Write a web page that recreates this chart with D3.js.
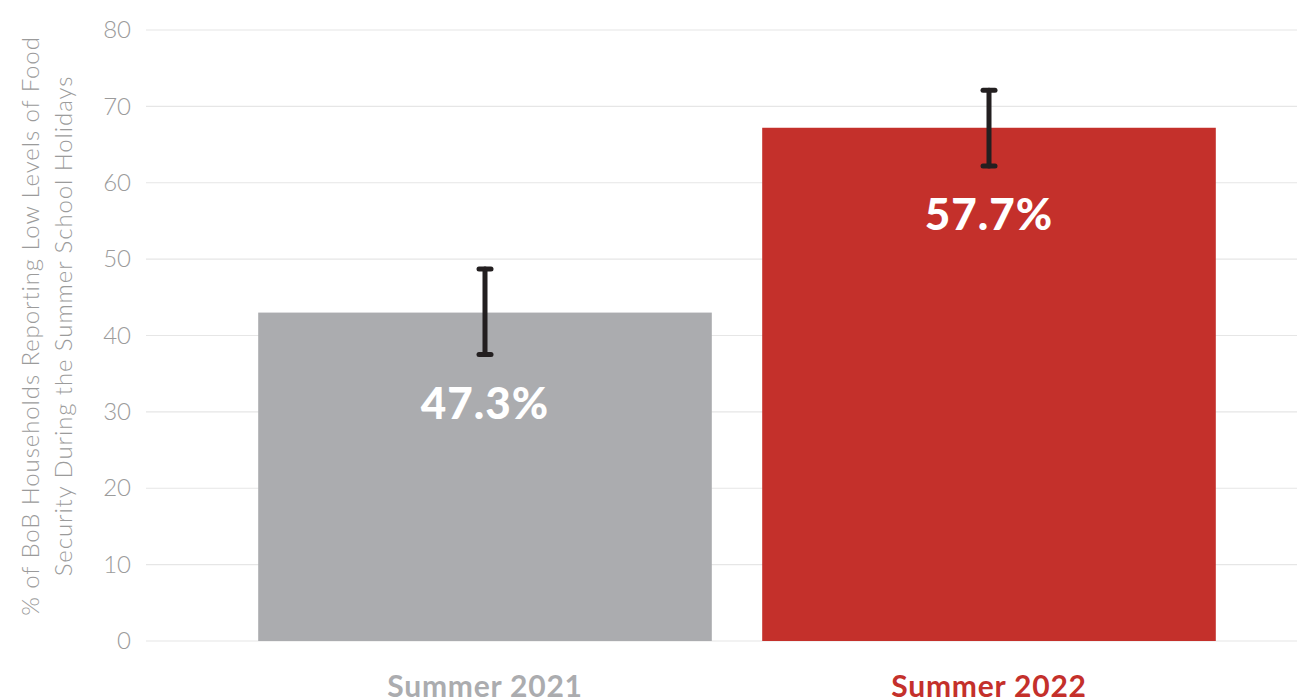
<!DOCTYPE html>
<html><head><meta charset="utf-8">
<script src="https://cdn.jsdelivr.net/npm/d3@7"></script>
<style>body{margin:0;background:#fff;overflow:hidden}</style>
</head><body><svg id="c" width="1297" height="699"></svg>
<script>
const categories = ["Summer 2021", "Summer 2022"];
const values = [43.0, 67.2];
const errLow = [37.5, 62.2];
const errHigh = [48.7, 72.1];
const valueLabels = ["47.3%", "57.7%"];
const yTicks = [0, 10, 20, 30, 40, 50, 60, 70, 80];
const barColors = ["#abacaf", "#c4302b"];
const catColors = ["#abacaf", "#c4302b"];
const yTitle = ["% of BoB Households Reporting Low Levels of Food", "Security During the Summer School Holidays"];

const svg = d3.select("#c");
const y = d3.scaleLinear().domain([0, 80]).range([641, 30]);
const x = d3.scaleBand().domain(categories).range([233, 1241]).paddingInner(0.1).paddingOuter(0.05);

// gridlines
svg.append("g").selectAll("line").data(yTicks).join("line")
  .attr("x1", 146).attr("x2", 1297)
  .attr("y1", d => y(d)).attr("y2", d => y(d))
  .attr("stroke", "#e6e6e6").attr("stroke-width", 1.2);

// y axis labels
const yAxis = d3.axisLeft(y).tickValues(yTicks).tickSize(0).tickPadding(0);
const ga = svg.append("g").attr("transform", "translate(131,0)").call(yAxis);
ga.select(".domain").remove();
ga.selectAll("text").attr("font-family", "Lato, 'Open Sans', sans-serif").attr("font-weight", 300)
  .attr("font-size", 24).attr("fill", "#9b9b9b");

// axis title
const tt = svg.append("text").attr("transform", "translate(31,326) rotate(-90)")
  .attr("text-anchor", "middle").attr("font-family", "Lato, 'Open Sans', sans-serif")
  .attr("font-weight", 300).attr("font-size", 24).attr("letter-spacing", 0.9).attr("fill", "#9b9b9b");
tt.selectAll("tspan").data(yTitle).join("tspan")
  .attr("x", 0).attr("dy", (d, i) => i === 0 ? "0.35em" : "1.35em").text(d => d);

// bars
svg.append("g").selectAll("rect").data(categories).join("rect")
  .attr("x", d => x(d)).attr("width", x.bandwidth())
  .attr("y", (d, i) => y(values[i])).attr("height", (d, i) => y(0) - y(values[i]))
  .attr("fill", (d, i) => barColors[i]);

// error bars
const eg = svg.append("g").attr("stroke", "#231f20").attr("stroke-linecap", "round");
categories.forEach((c, i) => {
  const cx = x(c) + x.bandwidth() / 2;
  eg.append("line").attr("x1", cx).attr("x2", cx).attr("y1", y(errHigh[i])).attr("y2", y(errLow[i])).attr("stroke-width", 5);
  eg.append("line").attr("x1", cx - 6).attr("x2", cx + 6).attr("y1", y(errHigh[i])).attr("y2", y(errHigh[i])).attr("stroke-width", 5);
  eg.append("line").attr("x1", cx - 6).attr("x2", cx + 6).attr("y1", y(errLow[i])).attr("y2", y(errLow[i])).attr("stroke-width", 5);
});

// value labels
svg.append("g").selectAll("text").data(categories).join("text")
  .attr("x", d => x(d) + x.bandwidth() / 2)
  .attr("y", (d, i) => y(errLow[i]) + 64)
  .attr("text-anchor", "middle").attr("font-family", "Lato, 'Open Sans', sans-serif")
  .attr("font-weight", 900).attr("font-size", 44).attr("letter-spacing", 1).attr("fill", "#fff")
  .text((d, i) => valueLabels[i]);

// category labels
svg.append("g").selectAll("text").data(categories).join("text")
  .attr("x", d => x(d) + x.bandwidth() / 2).attr("y", 697)
  .attr("text-anchor", "middle").attr("font-family", "Lato, 'Open Sans', sans-serif")
  .attr("font-weight", 700).attr("font-size", 30).attr("letter-spacing", 0.8).attr("fill", (d, i) => catColors[i])
  .text(d => d);
</script></body></html>
